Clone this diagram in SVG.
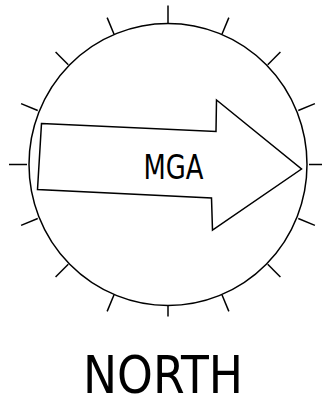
<svg xmlns="http://www.w3.org/2000/svg" width="322" height="402" viewBox="0 0 322 402">
<style>
.s{fill:none;stroke:#000;stroke-width:1.5}
.t{fill:#000;font-family:"DejaVu Sans Condensed","DejaVu Sans",sans-serif}
</style>
<rect width="322" height="402" fill="#fff"/>
<g id="dial">
<ellipse class="s" cx="168" cy="164.5" rx="139" ry="141"/>
<g id="ticks" class="s">
<line x1="168" y1="23.5" x2="168" y2="5.5" transform="rotate(0 168 164.5)"/>
<line x1="168" y1="23.5" x2="168" y2="5.5" transform="rotate(22.5 168 164.5)"/>
<line x1="168" y1="23.5" x2="168" y2="5.5" transform="rotate(45 168 164.5)"/>
<line x1="168" y1="23.5" x2="168" y2="5.5" transform="rotate(67.5 168 164.5)"/>
<line x1="168" y1="23.5" x2="168" y2="5.5" transform="rotate(90 168 164.5)"/>
<line x1="168" y1="23.5" x2="168" y2="5.5" transform="rotate(112.5 168 164.5)"/>
<line x1="168" y1="23.5" x2="168" y2="5.5" transform="rotate(135 168 164.5)"/>
<line x1="168" y1="23.5" x2="168" y2="5.5" transform="rotate(157.5 168 164.5)"/>
<line x1="168" y1="23.5" x2="168" y2="12.5" transform="rotate(180 168 164.5)"/>
<line x1="168" y1="23.5" x2="168" y2="5.5" transform="rotate(202.5 168 164.5)"/>
<line x1="168" y1="23.5" x2="168" y2="5.5" transform="rotate(225 168 164.5)"/>
<line x1="168" y1="23.5" x2="168" y2="5.5" transform="rotate(247.5 168 164.5)"/>
<line x1="168" y1="23.5" x2="168" y2="5.5" transform="rotate(270 168 164.5)"/>
<line x1="168" y1="23.5" x2="168" y2="5.5" transform="rotate(292.5 168 164.5)"/>
<line x1="168" y1="23.5" x2="168" y2="5.5" transform="rotate(315 168 164.5)"/>
<line x1="168" y1="23.5" x2="168" y2="5.5" transform="rotate(337.5 168 164.5)"/>
</g>
</g>
<g id="arrow">
<polygon class="s" stroke-linejoin="miter" points="41.5,123.5 216,131.5 216.5,100 301.5,169 212.5,230 211.5,198 37.5,189.5"/>
<text class="t" x="173.5" y="178.5" font-size="33" text-anchor="middle" textLength="60" lengthAdjust="spacingAndGlyphs">MGA</text>
</g>
<g id="label">
<text class="t" x="163" y="393" font-size="52" text-anchor="middle" textLength="160" lengthAdjust="spacingAndGlyphs">NORTH</text>
</g>
</svg>
